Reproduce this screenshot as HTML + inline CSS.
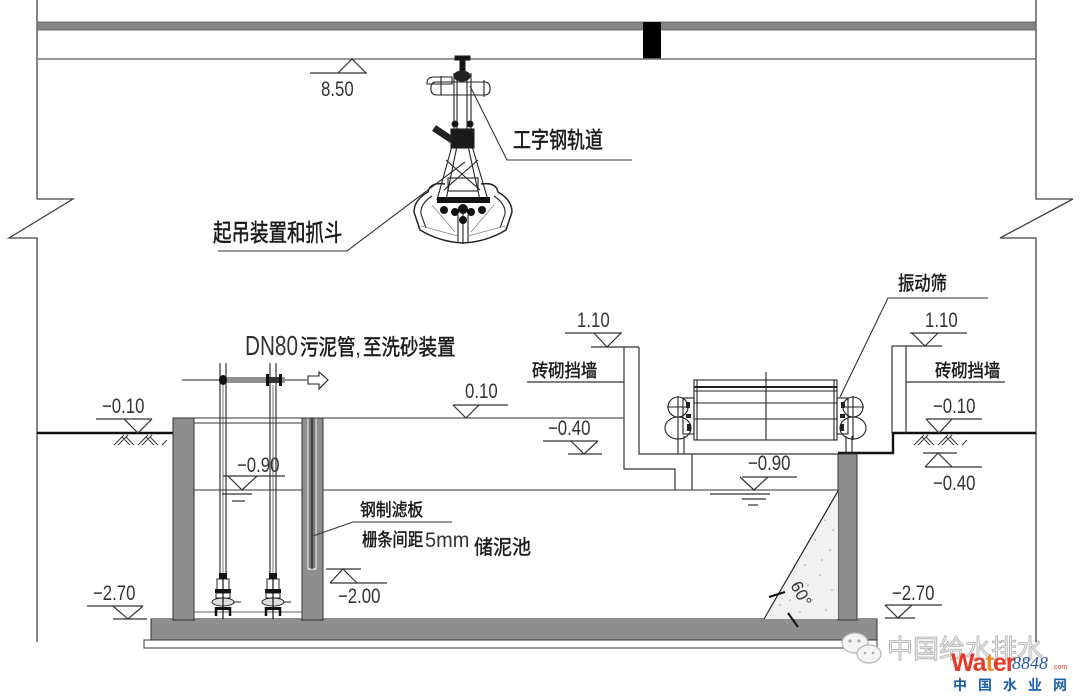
<!DOCTYPE html>
<html><head><meta charset="utf-8"><style>
html,body{margin:0;padding:0;background:#fff;}
svg{display:block;}
.n{font-family:"Liberation Sans",sans-serif;fill:#333;}
.c{font-family:"Liberation Sans","Noto Sans CJK SC",sans-serif;fill:#1a1a1a;stroke:#1a1a1a;stroke-width:0.4;}
</style></head><body>
<svg width="1080" height="699" viewBox="0 0 1080 699" xmlns="http://www.w3.org/2000/svg">
<rect width="1080" height="699" fill="#fff"/>

<!-- frame / break lines -->
<g stroke="#444" stroke-width="1.3" fill="none">
<path d="M37,0 V199 H73 L9,238 H37 V642"/>
<path d="M1036,0 V199 H1073 L1000,238 H1036 V642"/>
</g>
<!-- ceiling -->
<rect x="37" y="22" width="999" height="8" fill="#858585" stroke="#555" stroke-width="0.8"/>
<rect x="643" y="22" width="18" height="37" fill="#000"/>
<line x1="37" y1="59" x2="1036" y2="59" stroke="#777" stroke-width="1.6"/>

<!-- 8.50 -->
<g stroke="#333" stroke-width="1.2" fill="none">
<line x1="310" y1="73" x2="367" y2="73"/>
<path d="M338,73 L352,59 L366,73"/>
</g>
<text class="n" font-size="21" transform="translate(321,96) scale(0.8,1)">8.50</text>

<!-- grab -->
<g stroke="#222" stroke-width="1.1" fill="none">
<rect x="455" y="56" width="15" height="4" fill="#111"/>
<rect x="460" y="60" width="5" height="13" fill="#111"/>
<ellipse cx="462" cy="76" rx="8" ry="5" fill="#222"/>
<rect x="431" y="82" width="59" height="13" rx="5"/>
<path d="M427,83 Q427,77 434,77 H452 V84 H427 Z"/>
<line x1="441" y1="76" x2="441" y2="95"/>
<line x1="484" y1="80" x2="484" y2="97"/>
<line x1="454" y1="73" x2="454" y2="135"/>
<line x1="457" y1="73" x2="457" y2="135"/>
<line x1="467" y1="73" x2="467" y2="135"/>
<line x1="471" y1="73" x2="471" y2="135"/>
<ellipse cx="455" cy="124" rx="3" ry="3" fill="#111"/>
<ellipse cx="470" cy="124" rx="3" ry="3" fill="#111"/>
<rect x="451" y="129" width="23" height="19" fill="#1a1a1a"/>
<line x1="434" y1="128" x2="452" y2="140" stroke-width="7" stroke="#222"/>
<line x1="452" y1="146" x2="437" y2="200"/>
<line x1="457" y1="146" x2="446" y2="200"/>
<line x1="472" y1="146" x2="488" y2="200"/>
<line x1="468" y1="146" x2="480" y2="200"/>
<line x1="446" y1="160" x2="480" y2="190"/>
<line x1="478" y1="160" x2="444" y2="190"/>
<rect x="448" y="178" width="30" height="13"/>
<path d="M445,184 Q430,182 428,192 Q414,200 414,212 L420,230 Q440,242 463,243 Q486,242 506,230 L512,212 Q512,200 498,192 Q496,182 481,184" stroke-width="1.5"/>
<path d="M432,196 Q420,204 421,214 L426,228"/>
<path d="M494,196 Q506,204 505,214 L500,228"/>
<line x1="463" y1="205" x2="463" y2="244"/>
<line x1="458" y1="215" x2="458" y2="242"/>
<line x1="468" y1="215" x2="468" y2="242"/>
</g>
<g stroke="#888" stroke-width="0.8" fill="none">
<line x1="421" y1="226" x2="458" y2="236"/>
<line x1="505" y1="226" x2="468" y2="236"/>
<line x1="432" y1="205" x2="455" y2="232"/>
<line x1="494" y1="205" x2="471" y2="232"/>
</g>
<g fill="#111">
<rect x="437" y="197" width="53" height="6"/>
<circle cx="444" cy="210" r="4"/><circle cx="455" cy="212" r="4"/><circle cx="463" cy="209" r="5"/>
<circle cx="471" cy="212" r="4"/><circle cx="482" cy="210" r="4"/>
<circle cx="463" cy="220" r="4"/>
</g>
<!-- grab leaders -->
<g stroke="#333" stroke-width="1.1" fill="none">
<path d="M470,86 L507,160 H632"/>
<path d="M218,251 H347 L465,162"/>
</g>
<text class="c" font-size="18" transform="translate(513,148) scale(1,1.25)">工字钢轨道</text>
<text class="c" font-size="18.5" transform="translate(213,241) scale(1,1.3)">起吊装置和抓斗</text>

<!-- DN80 label and pipe -->
<text class="n" font-size="28" transform="translate(245,355) scale(0.74,1)">DN80</text>
<text class="c" font-size="18.5" transform="translate(300,355) scale(1,1.2)">污泥管</text>
<text class="n" font-size="22" x="355" y="355">,</text>
<text class="c" font-size="18.5" transform="translate(363,355) scale(1,1.2)">至洗砂装置</text>

<g stroke="#222" stroke-width="1.1" fill="none">
<line x1="182" y1="380" x2="307" y2="380"/>
<line x1="220" y1="378" x2="285" y2="378"/>
<line x1="220" y1="382" x2="285" y2="382"/>
<path d="M308,376 H319 V372 L328,380 L319,389 V384 H308 Z"/>
<line x1="220" y1="363" x2="220" y2="576"/>
<line x1="226" y1="363" x2="226" y2="576"/>
<line x1="223" y1="385" x2="223" y2="576" stroke-width="0.6"/>
<line x1="270" y1="363" x2="270" y2="576"/>
<line x1="276" y1="363" x2="276" y2="576"/>
<line x1="273" y1="385" x2="273" y2="576" stroke-width="0.6"/>
</g>
<ellipse cx="223" cy="380" rx="4" ry="5" fill="#111"/>
<rect x="266" y="374" width="3" height="12" fill="#111"/>
<rect x="279" y="374" width="3" height="12" fill="#111"/>
<rect x="269" y="377" width="10" height="6" fill="#333"/>

<!-- ground lines -->
<g stroke="#111" stroke-width="2.4" fill="none">
<line x1="37" y1="433" x2="173" y2="433"/>
<path d="M838,453 H893 V433 H1036"/>
</g>

<!-- slab and walls -->
<g fill="#8e8e8e" stroke="#333" stroke-width="1">
<rect x="144" y="640" width="733" height="8" fill="#fff"/>
<rect x="151" y="619" width="726" height="21"/>
<rect x="173" y="418" width="21" height="202"/>
<rect x="302" y="418" width="21" height="202"/>
<rect x="838" y="454" width="19" height="166"/>
</g>
<rect x="152" y="618" width="20" height="3" fill="#8e8e8e"/>
<rect x="195" y="618" width="106" height="3" fill="#8e8e8e"/>
<rect x="324" y="618" width="513" height="3" fill="#8e8e8e"/>
<rect x="858" y="618" width="18" height="3" fill="#8e8e8e"/>
<!-- filter plate -->
<rect x="308" y="418" width="8" height="151" fill="#777" stroke="#fff" stroke-width="1"/>
<line x1="312" y1="418" x2="312" y2="569" stroke="#222" stroke-width="1.2"/>

<g stroke="#333" stroke-width="1.1" fill="none">
<line x1="173" y1="418" x2="624" y2="418"/>
<line x1="194" y1="423" x2="302" y2="423"/>
<line x1="194" y1="490" x2="302" y2="490"/>
<line x1="323" y1="490" x2="838" y2="490"/>
<line x1="194" y1="612" x2="302" y2="612" stroke-width="0.8"/>
</g>

<!-- pumps -->
<g>
<rect x="219" y="573" width="8" height="6" fill="#111"/>
<rect x="217" y="579" width="12" height="11" fill="none" stroke="#222"/>
<rect x="215" y="589" width="16" height="4" fill="#111"/>
<rect x="216" y="593" width="14" height="5" fill="none" stroke="#222"/>
<ellipse cx="223" cy="602" rx="11" ry="4" fill="#ddd" stroke="#222"/>
<line x1="234" y1="602" x2="241" y2="602" stroke="#222"/>
<rect x="215" y="607" width="16" height="3" fill="#111"/>
<line x1="216" y1="607" x2="216" y2="616" stroke="#111" stroke-width="2.5"/>
<line x1="230" y1="607" x2="230" y2="616" stroke="#111" stroke-width="2.5"/>
<line x1="223" y1="575" x2="223" y2="619" stroke="#111" stroke-width="1.2"/>
</g>
<g transform="translate(50,0)">
<rect x="219" y="573" width="8" height="6" fill="#111"/>
<rect x="217" y="579" width="12" height="11" fill="none" stroke="#222"/>
<rect x="215" y="589" width="16" height="4" fill="#111"/>
<rect x="216" y="593" width="14" height="5" fill="none" stroke="#222"/>
<ellipse cx="223" cy="602" rx="11" ry="4" fill="#ddd" stroke="#222"/>
<line x1="234" y1="602" x2="241" y2="602" stroke="#222"/>
<rect x="215" y="607" width="16" height="3" fill="#111"/>
<line x1="216" y1="607" x2="216" y2="616" stroke="#111" stroke-width="2.5"/>
<line x1="230" y1="607" x2="230" y2="616" stroke="#111" stroke-width="2.5"/>
<line x1="223" y1="575" x2="223" y2="619" stroke="#111" stroke-width="1.2"/>
</g>

<!-- brick walls -->
<g stroke="#333" stroke-width="1.2" fill="none">
<path d="M591,347 H639"/>
<path d="M624,347 V469 H675 V490"/>
<path d="M639,347 V454 H838"/>
<line x1="692" y1="454" x2="692" y2="490"/>
<line x1="527" y1="382" x2="624" y2="382"/>
<path d="M892,346 H942"/>
<path d="M892,346 V433"/>
<line x1="906" y1="346" x2="906" y2="433"/>
<line x1="906" y1="382" x2="1005" y2="382"/>
</g>
<text class="c" font-size="16.3" transform="translate(532,377) scale(1,1.1)">砖砌挡墙</text>
<text class="c" font-size="16.3" transform="translate(935,377) scale(1,1.1)">砖砌挡墙</text>

<!-- vibrating screen -->
<g stroke="#222" stroke-width="1.1" fill="none">
<rect x="694" y="380" width="143" height="60"/>
<line x1="697" y1="380" x2="697" y2="440"/>
<line x1="834" y1="380" x2="834" y2="440"/>
<line x1="694" y1="387" x2="837" y2="387" stroke-width="2"/>
<line x1="694" y1="391" x2="837" y2="391"/>
<line x1="694" y1="403" x2="837" y2="403"/>
<line x1="694" y1="419" x2="837" y2="419"/>
<line x1="766" y1="372" x2="766" y2="440"/>
<line x1="678" y1="436" x2="678" y2="454"/>
<line x1="684" y1="436" x2="684" y2="454"/>
<line x1="846" y1="436" x2="846" y2="454"/>
<line x1="852" y1="436" x2="852" y2="454"/>
<circle cx="678" cy="407" r="10"/>
<ellipse cx="678" cy="428" rx="13" ry="11"/>
<line x1="667" y1="407" x2="690" y2="407"/>
<line x1="678" y1="396" x2="678" y2="440"/>
<rect x="683" y="398" width="11" height="36"/>
<circle cx="853" cy="407" r="10"/>
<ellipse cx="853" cy="428" rx="13" ry="11"/>
<line x1="841" y1="407" x2="864" y2="407"/>
<line x1="853" y1="396" x2="853" y2="440"/>
<rect x="837" y="398" width="11" height="36"/>
</g>
<g fill="#222">
<rect x="686" y="402" width="4" height="6"/><rect x="686" y="414" width="5" height="4"/><rect x="687" y="424" width="4" height="7"/>
<rect x="841" y="402" width="4" height="6"/><rect x="840" y="414" width="5" height="4"/><rect x="840" y="424" width="4" height="7"/>
</g>
<g stroke="#333" stroke-width="1.1" fill="none">
<path d="M988,298 H888 L840,397"/>
</g>
<text class="c" font-size="16.3" transform="translate(898,290) scale(1,1.2)">振动筛</text>

<!-- slope fill -->
<polygon points="838,491 764,619 838,619" fill="#f1f1f1" stroke="none"/>
<line x1="838" y1="491" x2="764" y2="619" stroke="#222" stroke-width="1.2"/>
<g fill="#999">
<circle cx="825" cy="520" r="0.8"/><circle cx="815" cy="540" r="0.8"/><circle cx="830" cy="550" r="0.8"/>
<circle cx="805" cy="565" r="0.8"/><circle cx="820" cy="575" r="0.8"/><circle cx="832" cy="590" r="0.8"/>
<circle cx="795" cy="585" r="0.8"/><circle cx="812" cy="600" r="0.8"/><circle cx="826" cy="610" r="0.8"/>
<circle cx="780" cy="605" r="0.8"/><circle cx="800" cy="612" r="0.8"/><circle cx="833" cy="530" r="0.8"/>
<circle cx="822" cy="560" r="0.8"/><circle cx="808" cy="585" r="0.8"/><circle cx="790" cy="600" r="0.8"/>
</g>
<line x1="769" y1="597" x2="785" y2="592" stroke="#111" stroke-width="2"/>
<line x1="788" y1="613" x2="798" y2="627" stroke="#111" stroke-width="2"/>
<text class="n" font-size="17" fill="#222" transform="translate(790,585) rotate(62)">60°</text>

<!-- elevation markers -->
<g stroke="#333" stroke-width="1.2" fill="none">
<line x1="96" y1="419" x2="152" y2="419"/><path d="M124,419 L138,433 L152,419"/>
<line x1="453" y1="405" x2="508" y2="405"/><path d="M453,405 L466,418 L479,405"/>
<line x1="565" y1="333" x2="622" y2="333"/><path d="M594,333 L607,347 L621,333"/>
<line x1="543" y1="441" x2="598" y2="441"/><path d="M571,441 L584,454 L598,441"/><line x1="568" y1="454" x2="602" y2="454"/>
<line x1="223" y1="476" x2="285" y2="476"/><path d="M228,476 L242,490 L257,476"/>
<line x1="222" y1="494" x2="252" y2="494"/><line x1="232" y1="501" x2="245" y2="501"/>
<line x1="742" y1="477" x2="797" y2="477"/><path d="M740,477 L754,490 L768,477"/>
<line x1="710" y1="494" x2="770" y2="494"/><line x1="742" y1="499" x2="766" y2="499"/><line x1="748" y1="505" x2="758" y2="505"/>
<line x1="910" y1="333" x2="967" y2="333"/><path d="M912,333 L925,346 L938,333"/>
<line x1="926" y1="419" x2="982" y2="419"/><path d="M926,419 L939,433 L952,419"/>
<line x1="923" y1="453" x2="957" y2="453"/><path d="M925,467 L938,453 L952,467"/><line x1="925" y1="467" x2="982" y2="467"/>
<line x1="326" y1="569" x2="361" y2="569"/><path d="M330,583 L343,569 L357,583"/><line x1="330" y1="583" x2="387" y2="583"/>
<line x1="87" y1="606" x2="143" y2="606"/><path d="M113,606 L128,619 L143,606"/><line x1="113" y1="619" x2="147" y2="619"/>
<line x1="885" y1="605" x2="942" y2="605"/><path d="M885,605 L898,618 L912,605"/><line x1="885" y1="618" x2="915" y2="618"/>
</g>
<!-- earth hatching -->
<g stroke="#333" stroke-width="1" fill="none">
<path d="M114,445 L124,435 M118,445 L128,435 M130,445 L122,437 M134,445 L126,437 M138,445 L148,435 M142,445 L152,435 M154,445 L146,437 M158,445 L150,437 M162,445 L167,440"/>
<path d="M914,445 L924,435 M918,445 L928,435 M930,445 L922,437 M934,445 L926,437 M938,445 L948,435 M942,445 L952,435 M954,445 L946,437 M958,445 L950,437 M962,445 L967,440"/>
</g>

<text class="n" font-size="21" transform="translate(102,413) scale(0.8,1)">−0.10</text>
<text class="n" font-size="21" transform="translate(465,398) scale(0.8,1)">0.10</text>
<text class="n" font-size="21" transform="translate(577,327) scale(0.8,1)">1.10</text>
<text class="n" font-size="21" transform="translate(548,435) scale(0.8,1)">−0.40</text>
<text class="n" font-size="21" transform="translate(237,472) scale(0.8,1)">−0.90</text>
<text class="n" font-size="21" transform="translate(748,470) scale(0.8,1)">−0.90</text>
<text class="n" font-size="21" transform="translate(925,327) scale(0.8,1)">1.10</text>
<text class="n" font-size="21" transform="translate(933,413) scale(0.8,1)">−0.10</text>
<text class="n" font-size="21" transform="translate(933,490) scale(0.8,1)">−0.40</text>
<text class="n" font-size="21" transform="translate(338,603) scale(0.8,1)">−2.00</text>
<text class="n" font-size="21" transform="translate(93,600) scale(0.8,1)">−2.70</text>
<text class="n" font-size="21" transform="translate(892,600) scale(0.8,1)">−2.70</text>

<!-- filter plate labels -->
<g stroke="#333" stroke-width="1.1" fill="none">
<path d="M452,522 H353 L313,536"/>
</g>
<text class="c" font-size="15.8" transform="translate(360,516) scale(1,1.1)">钢制滤板</text>
<text class="c" font-size="15.3" transform="translate(362,546) scale(1,1.2)">栅条间距</text>
<text class="n" font-size="21" fill="#222" transform="translate(425,547) scale(0.95,1)">5mm</text>
<text class="c" font-size="19" transform="translate(474,554) scale(1,1.05)">储泥池</text>

<!-- watermark -->
<g fill="#f4f4f4" stroke="#b5b5b5" stroke-width="1.2">
<ellipse cx="855" cy="643" rx="13" ry="10"/>
<ellipse cx="869" cy="654" rx="12" ry="9"/>
</g>
<g fill="#aaa"><circle cx="850" cy="641" r="1.6"/><circle cx="859" cy="641" r="1.6"/><circle cx="865" cy="653" r="1.3"/><circle cx="873" cy="653" r="1.3"/></g>
<text font-family="'Noto Sans CJK SC',sans-serif" font-size="26" x="887" y="658" fill="#efefef" stroke="#b0b0b0" stroke-width="0.8">中国给水排水</text>
<text font-family="'Liberation Sans',sans-serif" font-weight="bold" font-size="25" x="951" y="671" letter-spacing="-1"><tspan fill="#e23b2e">Wa</tspan><tspan fill="#f08a24">t</tspan><tspan fill="#e23b2e">er</tspan></text>
<text font-family="'Liberation Serif',serif" font-style="italic" font-size="18" x="1012" y="669" fill="#2a5aa8">8848</text>
<text font-family="'Liberation Sans',sans-serif" font-size="7" x="1052" y="669" fill="#e23b2e">.com</text>
<text font-family="'Noto Sans CJK SC',sans-serif" font-weight="bold" font-size="14" x="953" y="690" fill="#1b5fa8" letter-spacing="11">中国水业网</text>
</svg>
</body></html>
